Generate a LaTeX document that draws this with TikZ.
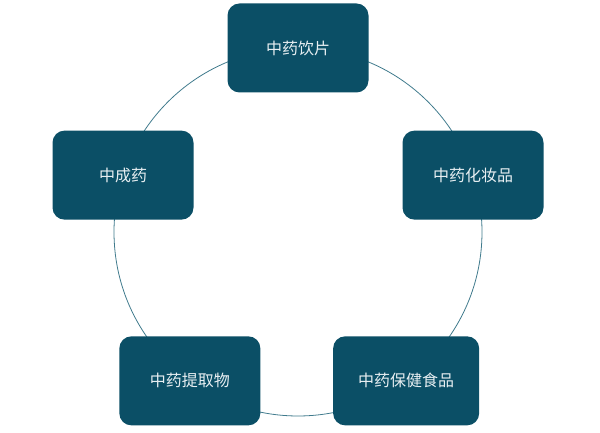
\documentclass[tikz,border=0pt]{standalone}
\usepackage{xcolor}
\usepackage{fontspec}
\setmainfont{Noto Sans CJK SC}
\usetikzlibrary{positioning}
\definecolor{herbteal}{HTML}{0B4F66}
\definecolor{ringline}{HTML}{3F7A8C}
\definecolor{boxtext}{HTML}{E8EFF2}

\begin{document}
\begin{tikzpicture}[
    x=1pt, y=1pt,
    herbbox/.style={fill=herbteal, rounded corners=12pt, minimum width=141pt, minimum height=89pt, inner sep=0pt, text=boxtext, font=\fontsize{16}{19}\selectfont},
    ring/.style={draw=ringline, line width=0.8pt}
  ]
    \useasboundingbox (0,0) rectangle (600,433);
    \coordinate (hub) at (298,201);
    \draw[ring] (hub) circle (184);
    \node[herbbox] (yinpian) at ([shift={(90:184)}]hub) {中药饮片};
    \node[herbbox] (huazhuang) at ([shift={(18:184)}]hub) {中药化妆品};
    \node[herbbox, minimum width=146pt] (baojian) at ([shift={(-54:184)}]hub) {中药保健食品};
    \node[herbbox] (tiqu) at ([shift={(-126:184)}]hub) {中药提取物};
    \node[herbbox] (chengyao) at ([shift={(162:184)}]hub) {中成药};
  \end{tikzpicture}
\end{document}
